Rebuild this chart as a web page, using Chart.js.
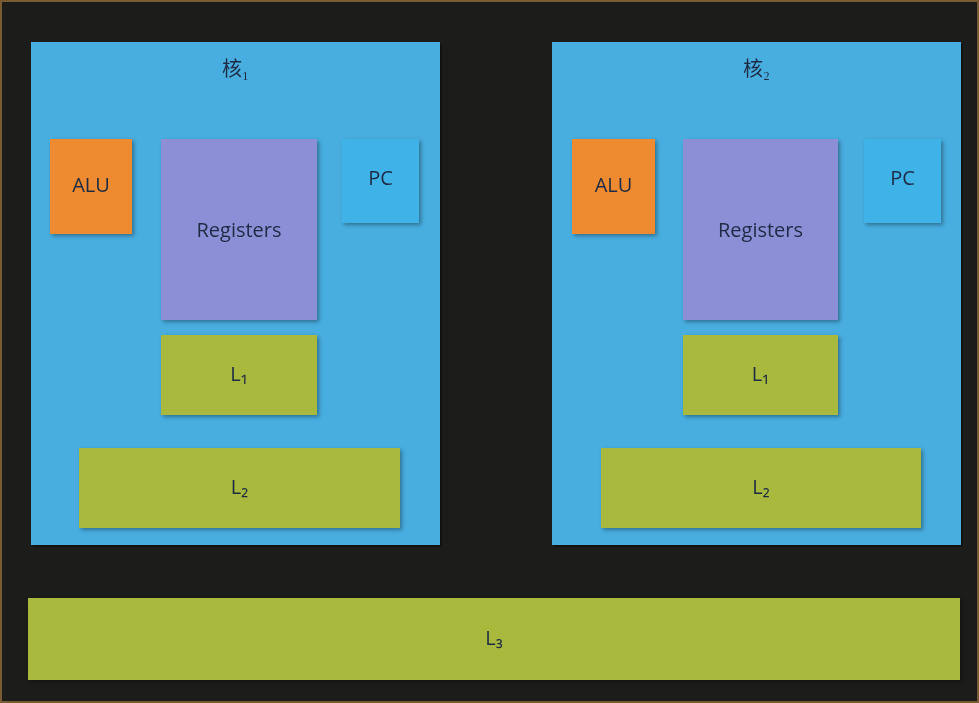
<!DOCTYPE html>
<html><head><meta charset="utf-8">
<script src="https://cdn.jsdelivr.net/npm/chart.js@4/dist/chart.umd.min.js"></script>
<style>html,body{margin:0;padding:0;background:#1c1c1b;}#w{width:979px;height:703px;}</style>
</head><body><div id="w"><canvas id="c"></canvas></div>
<script>
const labels = ['核₁','','ALU','Registers','PC','L₁','L₂','核₂','','ALU','Registers','PC','L₁','L₂','L₃'];
const kinds  = ['core','','alu','reg','pc','l','l','core','','alu','reg','pc','l','l','l'];
const x0 = [31,0,50,161,342,161,79, 552,0,572,683,864,683,601, 28];
const x1 = [440,0,132,317,419,317,400, 961,0,655,838,941,838,921, 960];
const y0 = [42,0,139,139,139,335,448, 42,0,139,139,139,335,448, 598];
const y1 = [545,0,234,320,223,415,528, 545,0,234,320,223,415,528, 680];
const colors = {core:'#48aee0',alu:'#ee8a30',reg:'#8c8fd6',pc:'#3fb2e8',l:'#a9b93e'};
const boxes = {
  id:'boxes',
  afterDraw(chart){
    const {ctx,scales:{x,y}} = chart;
    ctx.save();
    ctx.strokeStyle='#7a5a30';ctx.lineWidth=2;
    ctx.strokeRect(x.getPixelForValue(1),y.getPixelForValue(1),x.getPixelForValue(978)-x.getPixelForValue(1),y.getPixelForValue(702)-y.getPixelForValue(1));
    labels.forEach((t,i)=>{
      const k=kinds[i]; if(!k) return;
      const a=x.getPixelForValue(x0[i]),b=x.getPixelForValue(x1[i]);
      const c=y.getPixelForValue(y0[i]),d=y.getPixelForValue(y1[i]);
      ctx.shadowColor='rgba(0,0,0,0.35)';ctx.shadowBlur=k==='core'?0:4;ctx.shadowOffsetX=2;ctx.shadowOffsetY=2;
      ctx.fillStyle=colors[k];ctx.fillRect(a,c,b-a,d-c);
      ctx.shadowColor='transparent';
      ctx.fillStyle='#1d2b44';ctx.textAlign='center';ctx.textBaseline='middle';
      if(k==='core'){ctx.font='20px "Noto Sans CJK SC"';ctx.fillText(t,(a+b)/2,c+26);}
      else{ctx.font='20px "DejaVu Sans"';ctx.font='20px "Open Sans"';
        ctx.fillText(t,(a+b)/2,k==='reg'?c+92:(c+d)/2+(k==='pc'?-2:0));}
    });
    ctx.restore();
  }
};
new Chart(document.getElementById('c'),{
  type:'scatter',
  data:{datasets:[{data:[]}]},
  options:{responsive:true,maintainAspectRatio:false,animation:false,
    layout:{padding:0},
    plugins:{legend:{display:false},tooltip:{enabled:false}},
    scales:{x:{type:'linear',min:0,max:979,display:false},
            y:{type:'linear',min:0,max:703,reverse:true,display:false}}},
  plugins:[boxes]
});
</script></body></html>
